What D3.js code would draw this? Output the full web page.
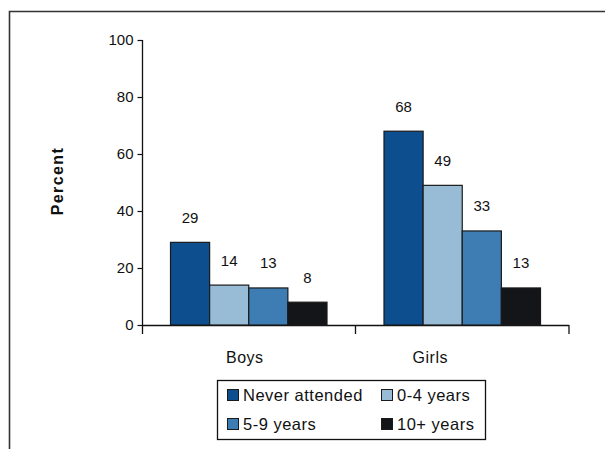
<!DOCTYPE html>
<html>
<head>
<meta charset="utf-8">
<script src="https://cdn.jsdelivr.net/npm/d3@7"></script>
<style>
  html, body { margin: 0; padding: 0; background: #fff; }
  svg { display: block; font-family: "Liberation Sans", Arial, sans-serif; }
</style>
</head>
<body>
<svg id="chart" width="605" height="449"></svg>
<script>
// Share of respondents by years of schooling, split by sex
const groups = ["Boys", "Girls"];
const seriesNames = ["Never attended", "0-4 years", "5-9 years", "10+ years"];
const boysValues = [29, 14, 13, 8];
const girlsValues = [68, 49, 33, 13];
const yTicks = [0, 20, 40, 60, 80, 100];
const colors = ["#0c4e8e", "#99bcd6", "#3e7db4", "#141518"];

const rows = groups.map((g, i) => ({
  group: g,
  values: (i === 0 ? boysValues : girlsValues).map((v, j) => ({ key: seriesNames[j], value: v }))
}));

const svg = d3.select("#chart");

// Outer frame (top and left edges visible)
svg.append("path")
  .attr("d", "M9.5,449 V11.5 H605")
  .attr("fill", "none")
  .attr("stroke", "#333")
  .attr("stroke-width", 1.6);

const x0 = d3.scaleBand().domain(groups).range([142, 569]).paddingInner(0).paddingOuter(0);
const x1 = d3.scaleBand().domain(seriesNames).range([28.5, x0.bandwidth() - 28.5]);
const y = d3.scaleLinear().domain([0, 100]).range([325, 40]);
const color = d3.scaleOrdinal().domain(seriesNames).range(colors);

// Y axis
const yAxis = svg.append("g")
  .attr("transform", "translate(142.5,0)")
  .call(d3.axisLeft(y).tickValues(yTicks).tickSize(5).tickPadding(4).tickSizeOuter(0));
yAxis.select(".domain").attr("stroke", "#111").attr("stroke-width", 1.3)
  .attr("d", `M0,${y(100)}V${y(0) + 9}`);
yAxis.selectAll(".tick line").attr("stroke", "#111").attr("stroke-width", 1.2);
yAxis.selectAll(".tick text").attr("font-size", 15).attr("fill", "#111")
  .attr("font-family", "Liberation Sans, Arial, sans-serif");

// X axis baseline with group-boundary ticks
const xAxisG = svg.append("g");
xAxisG.append("line")
  .attr("x1", x0.range()[0]).attr("x2", x0.range()[1])
  .attr("y1", y(0) + 0.5).attr("y2", y(0) + 0.5)
  .attr("stroke", "#111").attr("stroke-width", 1.3);
const boundaries = groups.map(g => x0(g)).concat([x0.range()[1]]);
xAxisG.selectAll("line.xt").data(boundaries.slice(1)).join("line")
  .attr("class", "xt")
  .attr("x1", d => d).attr("x2", d => d)
  .attr("y1", y(0)).attr("y2", y(0) + 9)
  .attr("stroke", "#111").attr("stroke-width", 1.3);

// Category labels
const labelShift = { Boys: -4, Girls: -32 };
svg.selectAll("text.cat").data(groups).join("text")
  .attr("class", "cat")
  .attr("x", d => x0(d) + x0.bandwidth() / 2 + labelShift[d])
  .attr("y", 363)
  .attr("text-anchor", "middle")
  .attr("font-size", 16)
  .attr("letter-spacing", 0.5)
  .attr("fill", "#111")
  .text(d => d);

// Bars
const grp = svg.selectAll("g.grp").data(rows).join("g")
  .attr("class", "grp")
  .attr("transform", d => `translate(${x0(d.group)},0)`);

grp.selectAll("rect").data(d => d.values).join("rect")
  .attr("x", d => x1(d.key))
  .attr("y", d => y(d.value))
  .attr("width", x1.bandwidth())
  .attr("height", d => y(0) - y(d.value))
  .attr("fill", d => color(d.key))
  .attr("stroke", "#1a1a1a")
  .attr("stroke-width", 1.2);

grp.selectAll("text.val").data(d => d.values).join("text")
  .attr("class", "val")
  .attr("x", d => x1(d.key) + x1.bandwidth() / 2)
  .attr("y", d => y(d.value) - 19.5)
  .attr("text-anchor", "middle")
  .attr("font-size", 15)
  .attr("fill", "#111")
  .text(d => d.value);

// Y axis title
svg.append("text")
  .attr("transform", "translate(63,181) rotate(-90)")
  .attr("text-anchor", "middle")
  .attr("font-size", 16)
  .attr("font-weight", "bold")
  .attr("letter-spacing", 1.4)
  .attr("fill", "#111")
  .text("Percent");

// Legend
const legend = svg.append("g");
legend.append("rect")
  .attr("x", 217.5).attr("y", 380.5)
  .attr("width", 268).attr("height", 59)
  .attr("fill", "#fff")
  .attr("stroke", "#111").attr("stroke-width", 1.3);

const legendCols = [227, 381];
const legendRows = [395, 424];
const items = legend.selectAll("g.item").data(seriesNames).join("g")
  .attr("class", "item")
  .attr("transform", (d, i) => `translate(${legendCols[i % 2]},${legendRows[Math.floor(i / 2)]})`);
items.append("rect")
  .attr("x", 0.5).attr("y", -5.5)
  .attr("width", 11).attr("height", 11)
  .attr("fill", d => color(d))
  .attr("stroke", "#1a1a1a").attr("stroke-width", 1);
items.append("text")
  .attr("x", 16).attr("y", 5.8)
  .attr("font-size", 16.5)
  .attr("letter-spacing", 0.5)
  .attr("fill", "#111")
  .text(d => d);
</script>
</body>
</html>
